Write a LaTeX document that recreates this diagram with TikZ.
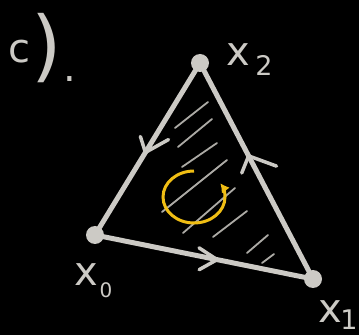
\documentclass[tikz,border=0pt]{standalone}
\usepackage{fontspec}
\setmainfont{DejaVu Sans}
\usetikzlibrary{decorations.markings,arrows.meta}
\definecolor{chalk}{RGB}{204,202,197}
\definecolor{hatch}{RGB}{172,170,165}
\definecolor{marker}{RGB}{240,190,20}
\begin{document}
\begin{tikzpicture}[x=1pt,y=1pt,
  edge/.style={draw=chalk,line width=5pt,line cap=round},
  vdot/.style={circle,fill=chalk,minimum size=18pt,inner sep=0pt},
  hatchline/.style={draw=hatch,line width=1.8pt,line cap=round},
  chev/.style={draw=chalk,line width=3.5pt,line cap=round,line join=round},
  lbl/.style={text=chalk,inner sep=0pt,font=\fontsize{40}{40}\selectfont},
  sublbl/.style={text=chalk,inner sep=0pt,font=\fontsize{27}{27}\selectfont}]
\fill[black] (0,0) rectangle (359,335);
\useasboundingbox (0,0) rectangle (359,335);
% vertices
\coordinate (x0) at (95,100);
\coordinate (x1) at (313,56);
\coordinate (x2) at (200,272);
% hatching
\foreach \a/\b in {{(175,207)}/{(208,233)},{(178,188)}/{(212,216)},{(182,168)}/{(217,192)},
  {(162,123)}/{(227,175)},{(183,102)}/{(235,147)},{(213,98)}/{(247,124)},
  {(247,82)}/{(268,100)},{(262,72)}/{(274,81)}}
  \draw[hatchline] \a -- \b;
% edges with arrowheads
\draw[edge,postaction={decorate,decoration={markings,
  mark=at position 0.52 with {\draw[chev] (-11pt,-12.6pt) -- (0pt,0pt) -- (-23pt,13pt);}}}]
  (x2) -- (x0);
\draw[edge,postaction={decorate,decoration={markings,
  mark=at position 0.56 with {\draw[chev] (-20pt,8pt) -- (0pt,0pt) -- (-15.6pt,-13.4pt);}}}]
  (x0) -- (x1);
\draw[edge,postaction={decorate,decoration={markings,
  mark=at position 0.57 with {\draw[chev] (-12pt,14pt) -- (0pt,0pt) -- (-22pt,-20pt);}}}]
  (x1) -- (x2);
% vertex dots
\node[vdot] (d0) at (x0) {};
\node[vdot] (d1) at (x1) {};
\node[vdot] (d2) at (x2) {};
% orientation arrow
\draw[marker,line width=3pt,-{Latex[length=9pt,width=10pt]}]
  (194,164) arc[start angle=90,end angle=392,x radius=31,y radius=26];
% labels
\node[lbl] (lx2) at (238,280) {x};
\node[sublbl] (lx2s) at (264,270) {2};
\node[lbl] (lx0) at (86,60) {x};
\node[sublbl,font=\fontsize{20}{20}\selectfont] (lx0s) at (106,45) {0};
\node[lbl] (lx1) at (330,23) {x};
\node[sublbl] (lx1s) at (349,15) {1};
\node[lbl] (lc) at (19,283) {c};
\node[text=chalk,inner sep=0pt,font=\fontsize{78}{78}\selectfont] (lp) at (47,287) {)};
\node[lbl] (ldot) at (70,256) {.};
\end{tikzpicture}
\end{document}
